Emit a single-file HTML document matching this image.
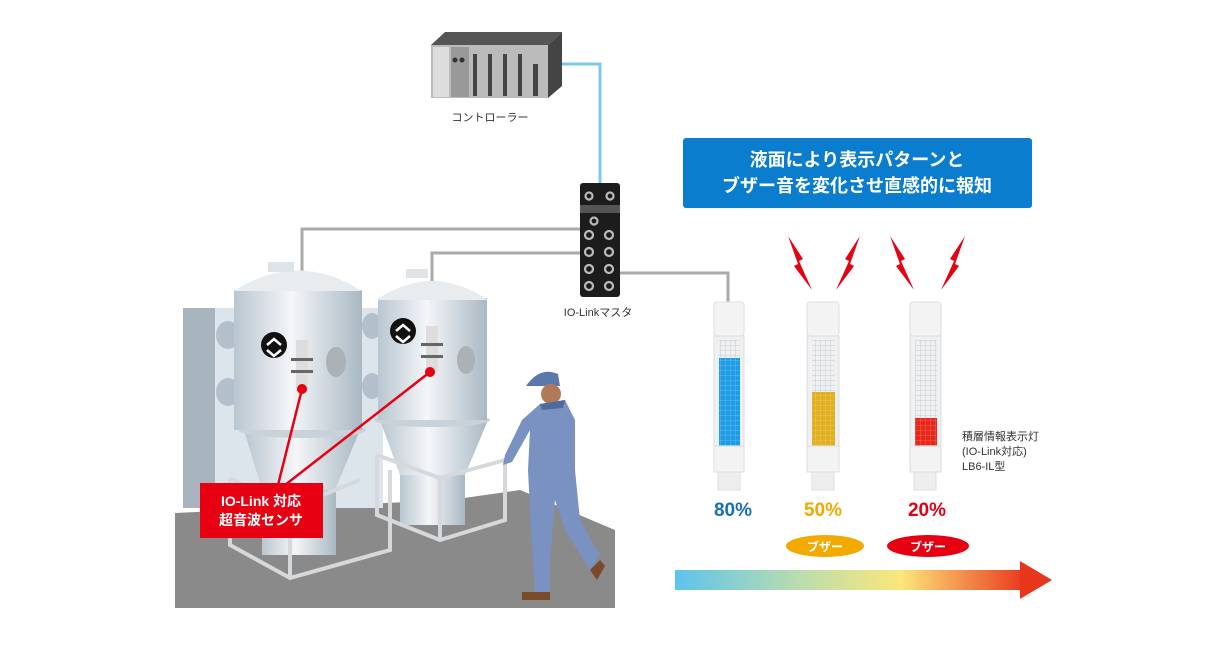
<!DOCTYPE html>
<html><head><meta charset="utf-8"><style>
html,body{margin:0;padding:0;background:#fff;}
svg text{font-family:"Liberation Sans","Noto Sans CJK JP",sans-serif;}
</style></head><body>
<svg width="1230" height="640" viewBox="0 0 1230 640" xmlns="http://www.w3.org/2000/svg">
<defs>
<linearGradient id="tank" x1="0" x2="1"><stop offset="0" stop-color="#b9c6d0"/><stop offset="0.45" stop-color="#f4f6f8"/><stop offset="1" stop-color="#a9b8c4"/></linearGradient>
<linearGradient id="arr" x1="0" x2="1"><stop offset="0" stop-color="#5ec3ec"/><stop offset="0.35" stop-color="#b8dcb0"/><stop offset="0.65" stop-color="#fbe77a"/><stop offset="1" stop-color="#ea3b1f"/></linearGradient>
<pattern id="grid" width="5" height="5" patternUnits="userSpaceOnUse"><path d="M0,0 H5 M0,0 V5" stroke="#bfc4c8" stroke-width="0.8" fill="none"/></pattern>
<pattern id="gridw" width="5" height="5" patternUnits="userSpaceOnUse"><path d="M0,0 H5 M0,0 V5" stroke="rgba(255,255,255,0.35)" stroke-width="0.8" fill="none"/></pattern>
</defs>
<!-- controller -->
<polygon points="431,45 445,32 562,32 548,45" fill="#555"/>
<polygon points="548,45 562,32 562,86 548,98" fill="#444"/>
<rect x="431" y="45" width="117" height="53" fill="#bbb"/>
<rect x="433" y="47" width="16" height="50" fill="#ddd"/>
<rect x="451" y="47" width="18" height="50" fill="#999"/>
<circle cx="455" cy="60" r="2.5" fill="#333"/><circle cx="462" cy="60" r="2.5" fill="#333"/>
<g fill="#444"><rect x="473" y="54" width="4" height="42"/><rect x="488" y="54" width="4" height="42"/><rect x="503" y="54" width="4" height="42"/><rect x="518" y="54" width="4" height="42"/><rect x="533" y="64" width="5" height="32"/></g>
<text x="490" y="121" font-size="11" text-anchor="middle" fill="#333">コントローラー</text>
<polyline points="562,64 600,64 600,184" fill="none" stroke="#7cc8f0" stroke-width="3"/>
<!-- cables -->
<polyline points="581,229 302,229 302,322" fill="none" stroke="#aaa" stroke-width="3"/>
<polyline points="581,253 432,253 432,322" fill="none" stroke="#aaa" stroke-width="3"/>
<polyline points="618,273 728,273 728,302" fill="none" stroke="#aaa" stroke-width="3"/>
<!-- master -->
<rect x="580" y="183" width="40" height="114" rx="3" fill="#1c1c1c"/>
<rect x="580" y="205" width="40" height="8" fill="#555"/>
<g fill="none" stroke="#bbb" stroke-width="2.2">
<circle cx="589" cy="196" r="3.5"/><circle cx="610" cy="196" r="3.5"/><circle cx="594" cy="221" r="3.5"/>
<circle cx="589" cy="235" r="4"/><circle cx="609" cy="235" r="4"/><circle cx="589" cy="252" r="4"/><circle cx="609" cy="252" r="4"/>
<circle cx="589" cy="269" r="4"/><circle cx="609" cy="269" r="4"/><circle cx="589" cy="286" r="4"/><circle cx="609" cy="286" r="4"/></g>
<text x="598" y="316" font-size="11" text-anchor="middle" fill="#333">IO-Linkマスタ</text>
<!-- floor & wall -->
<polygon points="175,513 450,500 520,490 615,530 615,608 175,608" fill="#8a8a8a"/>
<rect x="183" y="308" width="200" height="200" fill="#dde5ec"/>
<rect x="183" y="308" width="32" height="200" fill="#a9b5be"/>
<ellipse cx="228" cy="335" rx="12" ry="14" fill="#b3c0cc"/>
<ellipse cx="228" cy="392" rx="12" ry="14" fill="#b3c0cc"/>
<ellipse cx="372" cy="326" rx="10" ry="13" fill="#b3c0cc"/>
<ellipse cx="372" cy="386" rx="10" ry="13" fill="#b3c0cc"/>
<!-- tank 1 -->
<rect x="262" y="470" width="74" height="85" fill="url(#tank)"/>
<polygon points="244,430 360,430 335,490 262,490" fill="url(#tank)"/>
<ellipse cx="302" cy="430" rx="64" ry="8" fill="#c9d2d9"/>
<rect x="234" y="290" width="128" height="140" fill="url(#tank)"/>
<path d="M234,291 Q298,250 362,291 Z" fill="#e8ecef"/>
<rect x="268" y="262" width="26" height="10" fill="#dfe4e8"/>
<ellipse cx="336" cy="362" rx="10" ry="15" fill="#aab2b8"/>
<circle cx="274" cy="345" r="13" fill="#111"/>
<path d="M267,345 l7,-6 7,6 M267,350 l7,6 7,-6" stroke="#fff" stroke-width="2.5" fill="none"/>
<rect x="296" y="340" width="12" height="52" fill="#ddd"/>
<rect x="291" y="358" width="22" height="3" fill="#666"/><rect x="291" y="370" width="22" height="3" fill="#666"/>
<!-- tank 2 -->
<rect x="400" y="470" width="65" height="55" fill="url(#tank)"/>
<polygon points="380,420 488,420 465,475 400,475" fill="url(#tank)"/>
<ellipse cx="432" cy="420" rx="58" ry="7" fill="#c9d2d9"/>
<rect x="378" y="298" width="109" height="122" fill="url(#tank)"/>
<path d="M376,300 Q432,262 488,300 Z" fill="#e8ecef"/>
<rect x="406" y="269" width="22" height="9" fill="#dfe4e8"/>
<ellipse cx="466" cy="360" rx="9" ry="14" fill="#aab2b8"/>
<circle cx="403" cy="331" r="13" fill="#111"/>
<path d="M396,331 l7,-6 7,6 M396,336 l7,6 7,-6" stroke="#fff" stroke-width="2.5" fill="none"/>
<rect x="426" y="326" width="12" height="46" fill="#ddd"/>
<rect x="421" y="343" width="22" height="3" fill="#666"/><rect x="421" y="355" width="22" height="3" fill="#666"/>
<!-- frames -->
<g fill="none" stroke="#d5d9dc" stroke-width="4">
<polyline points="230,478 290,508 360,480"/><polyline points="230,478 230,545 290,578 390,550 390,470"/>
<line x1="290" y1="508" x2="290" y2="578"/>
<polyline points="377,455 440,478 505,460 505,520 440,540 377,515 377,455"/><line x1="440" y1="478" x2="440" y2="540"/>
</g>
<!-- red pointers -->
<g stroke="#e60012" stroke-width="2.5"><line x1="302" y1="389" x2="278" y2="485"/><line x1="430" y1="372" x2="285" y2="485"/></g>
<circle cx="302" cy="389" r="5" fill="#e60012"/><circle cx="430" cy="372" r="5" fill="#e60012"/>
<rect x="200" y="483" width="123" height="55" fill="#e60012"/>
<text x="261" y="506" font-size="14" font-weight="bold" text-anchor="middle" fill="#fff">IO-Link 対応</text>
<text x="261" y="525" font-size="14" font-weight="bold" text-anchor="middle" fill="#fff">超音波センサ</text>
<!-- worker -->
<path d="M526,386 Q540,366 558,374 L560,386 Z" fill="#5b78ad"/>
<circle cx="551" cy="394" r="10" fill="#b07a5a"/>
<path d="M540,404 L565,400 L575,420 L575,470 L580,520 L600,555 L590,570 L565,530 L555,500 L550,560 L550,592 L535,595 L530,510 L528,470 L530,430 L512,462 L503,465 L505,455 L522,420 Z" fill="#7a92c2"/>
<path d="M540,404 L565,400 L563,408 L542,410 Z" fill="#4f6a9c"/>
<path d="M590,570 l10,-10 5,6 -8,14 Z M522,592 l28,0 0,8 -28,0 Z" fill="#7a4a2a"/>
<!-- blue box -->
<rect x="683" y="138" width="349" height="70" rx="3" fill="#0b7dcf"/>
<text x="857" y="166" font-size="18" font-weight="bold" text-anchor="middle" fill="#fff">液面により表示パターンと</text>
<text x="857" y="192" font-size="18" font-weight="bold" text-anchor="middle" fill="#fff">ブザー音を変化させ直感的に報知</text>
<!-- lightning -->
<g fill="#e60012">
<polygon points="788,236 803,259 799,261 812,290 794,266 798,264"/>
<polygon points="860,236 845,259 849,261 836,290 854,266 850,264"/>
<polygon points="890,236 905,259 901,261 914,290 896,266 900,264"/>
<polygon points="965,236 950,259 954,261 941,290 959,266 955,264"/>
</g>
<!-- towers -->
<g>
<rect x="714" y="302" width="30" height="34" rx="3" fill="#f3f3f3" stroke="#ddd"/>
<rect x="714" y="336" width="30" height="110" fill="#eef0f2" stroke="#ddd"/>
<rect x="719" y="340" width="21" height="106" fill="url(#grid)"/>
<rect x="719" y="358" width="21" height="88" fill="#1e9de6"/>
<rect x="719" y="358" width="21" height="88" fill="url(#gridw)"/>
<rect x="714" y="446" width="30" height="26" fill="#f3f3f3" stroke="#ddd"/>
<rect x="718" y="472" width="22" height="18" fill="#eee" stroke="#ddd"/>
<rect x="807" y="302" width="32" height="34" rx="3" fill="#f3f3f3" stroke="#ddd"/>
<rect x="807" y="336" width="32" height="110" fill="#eef0f2" stroke="#ddd"/>
<rect x="812" y="340" width="23" height="106" fill="url(#grid)"/>
<rect x="812" y="392" width="23" height="54" fill="#e0b020"/>
<rect x="812" y="392" width="23" height="54" fill="url(#gridw)"/>
<rect x="807" y="446" width="32" height="26" fill="#f3f3f3" stroke="#ddd"/>
<rect x="812" y="472" width="22" height="18" fill="#eee" stroke="#ddd"/>
<rect x="910" y="302" width="31" height="34" rx="3" fill="#f3f3f3" stroke="#ddd"/>
<rect x="910" y="336" width="31" height="110" fill="#eef0f2" stroke="#ddd"/>
<rect x="915" y="340" width="22" height="106" fill="url(#grid)"/>
<rect x="915" y="418" width="22" height="28" fill="#e8261a"/>
<rect x="915" y="418" width="22" height="28" fill="url(#gridw)"/>
<rect x="910" y="446" width="31" height="26" fill="#f3f3f3" stroke="#ddd"/>
<rect x="914" y="472" width="22" height="18" fill="#eee" stroke="#ddd"/>
</g>
<text x="962" y="440" font-size="11" fill="#333">積層情報表示灯</text>
<text x="962" y="455" font-size="11" fill="#333">(IO-Link対応)</text>
<text x="962" y="470" font-size="11" fill="#333">LB6-IL型</text>
<text x="733" y="516" font-size="19" font-weight="bold" text-anchor="middle" fill="#1a6fba">80%</text>
<text x="823" y="516" font-size="19" font-weight="bold" text-anchor="middle" fill="#f2a900">50%</text>
<text x="927" y="516" font-size="19" font-weight="bold" text-anchor="middle" fill="#e60012">20%</text>
<ellipse cx="825" cy="546" rx="39" ry="11" fill="#f2a900"/>
<text x="825" y="551" font-size="12" font-weight="bold" text-anchor="middle" fill="#fff">ブザー</text>
<ellipse cx="928" cy="546" rx="41" ry="11" fill="#e60012"/>
<text x="928" y="551" font-size="12" font-weight="bold" text-anchor="middle" fill="#fff">ブザー</text>
<rect x="675" y="570" width="348" height="20" fill="url(#arr)"/>
<polygon points="1020,561 1052,580 1020,599" fill="#e8361c"/>
</svg>
</body></html>
